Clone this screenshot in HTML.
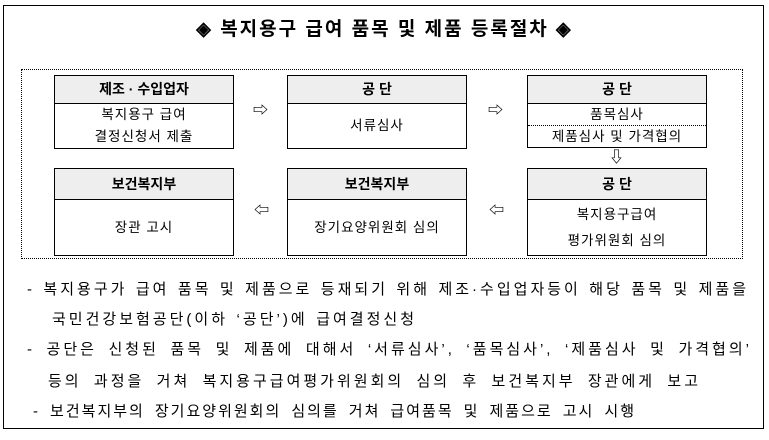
<!DOCTYPE html>
<html><head><meta charset="utf-8"><style>
body{margin:0;width:769px;height:440px;background:#fff;position:relative;font-family:"Liberation Sans","Noto Sans CJK KR",sans-serif;color:#000;overflow:hidden}
.a{position:absolute}
.box{position:absolute;border:1px solid #000;width:180px;box-sizing:border-box;background:#fff}
.hd{background:#eee;border-bottom:1px solid #000;text-align:center;font-weight:bold;font-size:14px;box-sizing:border-box}
.bd{text-align:center;font-size:13.5px;letter-spacing:1px}
.t{position:absolute;font-size:15px;white-space:nowrap;text-align:justify;text-align-last:justify;height:20px;line-height:20px;letter-spacing:3px}
.ar{position:absolute;font-size:15px;line-height:15px;font-weight:bold}
</style></head><body>
<div class="a" style="left:3px;top:5px;width:759px;height:422px;border:1.5px solid #000"></div>
<div class="a" style="left:0;width:769px;top:14px;text-align:center;font-size:19px;font-weight:bold;letter-spacing:2px">◈ 복지용구 급여 품목 및 제품 등록절차 ◈</div>
<div class="a" style="left:21px;top:69px;width:720px;height:188px;border:1px dotted #000"></div>

<div class="box" style="left:54px;top:75px;height:74px"><div class="hd" style="height:28px;line-height:27px">제조 · 수입업자</div><div class="bd" style="line-height:22px">복지용구 급여<br>결정신청서 제출</div></div>
<div class="box" style="left:287px;top:75px;height:74px"><div class="hd" style="height:28px;line-height:27px">공 단</div><div class="bd" style="line-height:44px">서류심사</div></div>
<div class="box" style="left:527px;top:75px;height:73px"><div class="hd" style="height:28px;line-height:27px">공 단</div><div class="bd" style="line-height:21px;border-bottom:1px dotted #000">품목심사</div><div class="bd" style="line-height:21px">제품심사 및 가격협의</div></div>

<div class="box" style="left:54px;top:168px;height:88px"><div class="hd" style="height:31px;line-height:30px">보건복지부</div><div class="bd" style="line-height:55px">장관 고시</div></div>
<div class="box" style="left:287px;top:168px;height:88px"><div class="hd" style="height:31px;line-height:30px">보건복지부</div><div class="bd" style="line-height:55px">장기요양위원회 심의</div></div>
<div class="box" style="left:527px;top:168px;height:88px"><div class="hd" style="height:31px;line-height:30px">공 단</div><div class="bd" style="line-height:26px;padding-top:2px">복지용구급여<br>평가위원회 심의</div></div>

<div class="ar" style="left:253px;top:103px">⇨</div>
<div class="ar" style="left:488px;top:103px">⇨</div>
<div class="ar" style="left:609px;top:150px">⇩</div>
<div class="ar" style="left:254px;top:203px">⇦</div>
<div class="ar" style="left:489px;top:203px">⇦</div>

<div class="t" style="left:27px;top:280px;width:722px">- 복지용구가 급여 품목 및 제품으로 등재되기 위해 제조·수입업자등이 해당 품목 및 제품을</div>
<div class="t" style="left:52px;top:310px;width:365px">국민건강보험공단(이하 ‘공단’)에 급여결정신청</div>
<div class="t" style="left:27px;top:340px;width:725px">- 공단은 신청된 품목 및 제품에 대해서 ‘서류심사’, ‘품목심사’, ‘제품심사 및 가격협의’</div>
<div class="t" style="left:48px;top:372px;width:653px">등의 과정을 거쳐 복지용구급여평가위원회의 심의 후 보건복지부 장관에게 보고</div>
<div class="t" style="left:33px;top:402px;width:603px;letter-spacing:2px">- 보건복지부의 장기요양위원회의 심의를 거쳐 급여품목 및 제품으로 고시 시행</div>
</body></html>
